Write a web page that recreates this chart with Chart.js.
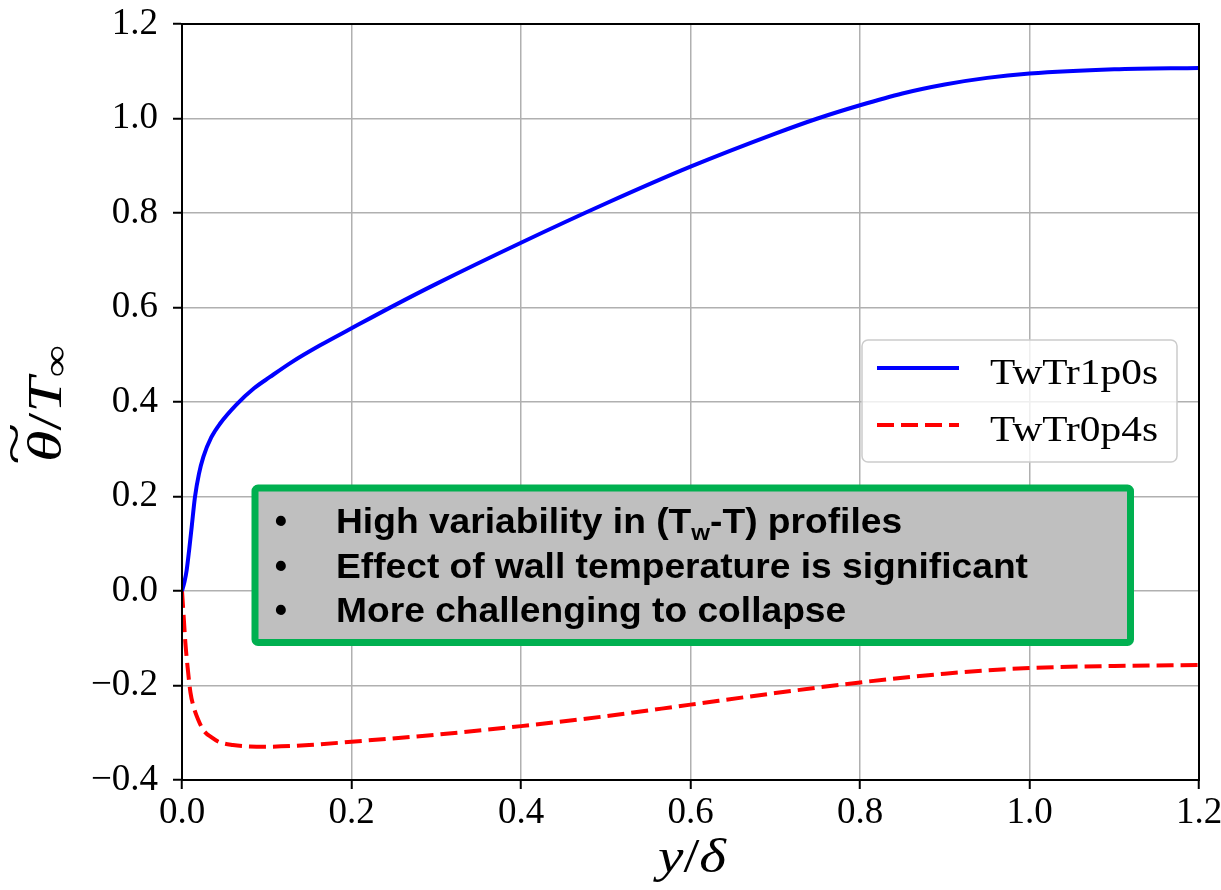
<!DOCTYPE html>
<html>
<head>
<meta charset="utf-8">
<script src="https://cdn.jsdelivr.net/npm/chart.js@4.4.0/dist/chart.umd.min.js"></script>
<style>
  html, body { margin: 0; padding: 0; background: #fff; }
  #wrap { width: 1221px; height: 890px; }
</style>
</head>
<body>
<div id="wrap"><canvas id="chartTheta" width="1221" height="890"></canvas></div>
<script>
// ===============================================
// temperature profile plot : theta~/T_inf vs y/delta
// ===============================================

// -----------------------------------------------
// 1) data
// -----------------------------------------------
const seriesLabels = ["TwTr1p0s", "TwTr0p4s"];

const blueX = [0, 0.003, 0.0055, 0.0085, 0.0114, 0.0153, 0.02, 0.0252, 0.0345, 0.0448,
  0.0645, 0.085, 0.1038, 0.13, 0.163, 0.2, 0.25, 0.3, 0.4, 0.5,
  0.6, 0.7, 0.75, 0.8, 0.85, 0.9, 0.95, 1.0, 1.1, 1.2];
const blueY = [0, 0.02, 0.044, 0.088, 0.135, 0.199, 0.248, 0.284, 0.325, 0.354,
  0.395, 0.429, 0.453, 0.485, 0.52, 0.556, 0.604, 0.65, 0.737, 0.82,
  0.898, 0.968, 1.0, 1.028, 1.053, 1.072, 1.086, 1.095, 1.104, 1.107];

const redX = [0, 0.002, 0.004, 0.0066, 0.01, 0.0137, 0.019, 0.0255, 0.035, 0.0437,
  0.06, 0.08, 0.1, 0.15, 0.2, 0.3, 0.4, 0.5, 0.6, 0.7,
  0.8, 0.9, 1.0, 1.1, 1.2];
const redY = [0, -0.055, -0.11, -0.161, -0.215, -0.245, -0.272, -0.295, -0.31, -0.3195,
  -0.326, -0.329, -0.3295, -0.326, -0.319, -0.304, -0.286, -0.265, -0.2405, -0.216,
  -0.1935, -0.175, -0.163, -0.1587, -0.1566];

const xTicks = [0, 0.2, 0.4, 0.6, 0.8, 1.0, 1.2];
const yTicks = [-0.4, -0.2, 0, 0.2, 0.4, 0.6, 0.8, 1.0, 1.2];

// "_w" marks a subscript
const noteLines = [
  "High variability in (T_w-T) profiles",
  "Effect of wall temperature is significant",
  "More challenging to collapse"
];

const SERIF = "'Liberation Serif', 'Times New Roman', serif";
const SANS = "'Liberation Sans', Arial, sans-serif";

// -----------------------------------------------
// 2) text helpers
// -----------------------------------------------
function splitRuns(str) {
  const parts = str.split(/_(\w)/);
  return parts.map((t, i) => ({ t, sub: i % 2 === 1 })).filter(r => r.t.length);
}

function runsWidth(ctx, runs, size, weight, family) {
  let w = 0;
  for (const r of runs) {
    ctx.font = `${weight} ${r.sub ? size * 0.65 : size}px ${family}`;
    w += ctx.measureText(r.t).width;
  }
  return w;
}

function drawRuns(ctx, runs, x, y, size, weight, family) {
  let cx = x;
  for (const r of runs) {
    const fs = r.sub ? size * 0.65 : size;
    ctx.font = `${weight} ${fs}px ${family}`;
    ctx.fillText(r.t, cx, r.sub ? y + size * 0.2 : y);
    cx += ctx.measureText(r.t).width;
  }
}

// math label pieces: {t, f, dy}
function piecesWidth(ctx, pieces) {
  let w = 0;
  pieces.forEach(p => { ctx.font = p.f; w += ctx.measureText(p.t).width; });
  return w;
}

function drawPieces(ctx, pieces) {
  let px = 0;
  pieces.forEach(p => {
    ctx.font = p.f;
    const w = ctx.measureText(p.t).width;
    ctx.fillText(p.t, px, p.dy || 0);
    if (p.accent) {
      // wide tilde over the glyph
      ctx.save();
      ctx.font = p.accent.f;
      const aw = ctx.measureText("~").width;
      ctx.translate(px + w / 2 + 2, p.accent.dy);
      ctx.scale((w + 8) / aw, 1);
      ctx.textAlign = "center";
      ctx.fillText("~", 0, 0);
      ctx.restore();
    }
    px += w;
  });
}

// -----------------------------------------------
// 3) annotation box, legend, frame, axis titles
// -----------------------------------------------
function drawNote(ctx) {
  ctx.save();
  ctx.beginPath();
  ctx.roundRect(255, 488, 875.5, 154.5, 3);
  ctx.fillStyle = "#bfbfbf";
  ctx.fill();
  ctx.lineWidth = 7;
  ctx.strokeStyle = "#00b050";
  ctx.stroke();

  ctx.fillStyle = "#000";
  ctx.textBaseline = "alphabetic";
  const size = 35;
  const ref = runsWidth(ctx, splitRuns(noteLines[1]), size, "bold", SANS);
  const k = 692 / ref;
  noteLines.forEach((line, i) => {
    const base = 533 + i * 44.5;
    ctx.font = `bold ${size}px ${SANS}`;
    ctx.textAlign = "center";
    ctx.fillText("\u2022", 281, base);
    ctx.textAlign = "left";
    ctx.save();
    ctx.translate(336, base);
    ctx.scale(k, 1);
    drawRuns(ctx, splitRuns(line), 0, 0, size, "bold", SANS);
    ctx.restore();
  });
  ctx.restore();
}

function drawLegend(chart) {
  const ctx = chart.ctx;
  ctx.save();
  ctx.beginPath();
  ctx.roundRect(862, 340, 315, 122, 6);
  ctx.fillStyle = "rgba(255,255,255,0.8)";
  ctx.fill();
  ctx.lineWidth = 1.5;
  ctx.strokeStyle = "#cccccc";
  ctx.stroke();

  chart.data.datasets.forEach((ds, i) => {
    const cy = 368 + i * 57;
    ctx.beginPath();
    ctx.setLineDash(ds.borderDash || []);
    ctx.lineWidth = ds.borderWidth;
    ctx.strokeStyle = ds.borderColor;
    ctx.moveTo(877, cy);
    ctx.lineTo(959, cy);
    ctx.stroke();
    ctx.setLineDash([]);

    ctx.fillStyle = "#000";
    ctx.font = `36px ${SERIF}`;
    ctx.textBaseline = "alphabetic";
    ctx.textAlign = "left";
    const w = ctx.measureText(ds.label).width;
    ctx.save();
    ctx.translate(990, cy + 16);
    ctx.scale(168 / w, 1);
    ctx.fillText(ds.label, 0, 0);
    ctx.restore();
  });
  ctx.restore();
}

function drawTitles(ctx) {
  ctx.save();
  ctx.fillStyle = "#000";
  ctx.textBaseline = "alphabetic";
  ctx.textAlign = "left";

  // x title: y/δ
  const xr = [
    { t: "y", f: `italic 48px ${SERIF}` },
    { t: "/", f: `48px ${SERIF}` },
    { t: "\u03b4", f: `italic 48px ${SERIF}` }
  ];
  const xw = piecesWidth(ctx, xr);
  ctx.save();
  ctx.translate(658, 872);
  ctx.scale(68 / xw, 1);
  drawPieces(ctx, xr);
  ctx.restore();

  // y title: θ~/T∞, rotated
  const yr = [
    { t: "\u03b8", f: `italic 48px ${SERIF}`, accent: { f: `48px ${SERIF}`, dy: -31 } },
    { t: "/", f: `48px ${SERIF}` },
    { t: "T", f: `italic 48px ${SERIF}` },
    { t: "\u221e", f: `34px ${SERIF}`, dy: 6 }
  ];
  const yw = piecesWidth(ctx, yr);
  ctx.save();
  ctx.translate(61, 462);
  ctx.rotate(-Math.PI / 2);
  ctx.scale(117 / yw, 1);
  drawPieces(ctx, yr);
  ctx.restore();
  ctx.restore();
}

const overlay = {
  id: "overlay",
  afterDatasetsDraw(chart) {
    const { ctx, chartArea: a } = chart;
    drawNote(ctx);
    drawLegend(chart);
    ctx.save();
    ctx.strokeStyle = "#000";
    ctx.lineWidth = 2;
    ctx.strokeRect(a.left, a.top, a.right - a.left, a.bottom - a.top);
    ctx.restore();
    drawTitles(ctx);
  }
};

// -----------------------------------------------
// 4) chart
// -----------------------------------------------
const fmt = v => Number(v).toFixed(1).replace("-", "\u2212");

const gridStyle = {
  color: "#b0b0b0",
  lineWidth: 1.5,
  tickLength: 9,
  tickColor: "#000",
  tickWidth: 2
};

new Chart(document.getElementById("chartTheta"), {
  type: "scatter",
  data: {
    datasets: [
      {
        label: seriesLabels[0],
        data: blueX.map((x, i) => ({ x, y: blueY[i] })),
        showLine: true,
        borderColor: "#0000ff",
        borderWidth: 4,
        pointRadius: 0,
        cubicInterpolationMode: "monotone",
        fill: false
      },
      {
        label: seriesLabels[1],
        data: redX.map((x, i) => ({ x, y: redY[i] })),
        showLine: true,
        borderColor: "#ff0000",
        borderWidth: 4,
        borderDash: [17, 7],
        pointRadius: 0,
        cubicInterpolationMode: "monotone",
        fill: false
      }
    ]
  },
  options: {
    responsive: false,
    animation: false,
    devicePixelRatio: 1,
    layout: { padding: { top: 24, right: 22, left: 0, bottom: 0 } },
    plugins: {
      legend: { display: false },
      tooltip: { enabled: false }
    },
    scales: {
      x: {
        type: "linear",
        min: 0,
        max: 1.2,
        afterBuildTicks: s => { s.ticks = xTicks.map(value => ({ value })); },
        afterFit: s => { s.height = 110; s.paddingLeft = 0; s.paddingRight = 0; },
        ticks: {
          callback: fmt,
          color: "#000",
          font: { family: SERIF, size: 37 },
          padding: 2,
          maxRotation: 0
        },
        grid: gridStyle,
        border: { display: true, color: "#000", width: 2 }
      },
      y: {
        type: "linear",
        min: -0.4,
        max: 1.2,
        afterBuildTicks: s => { s.ticks = yTicks.map(value => ({ value })); },
        afterFit: s => { s.width = 182; s.paddingTop = 0; s.paddingBottom = 0; },
        ticks: {
          callback: fmt,
          color: "#000",
          font: { family: SERIF, size: 37 },
          padding: 15
        },
        grid: gridStyle,
        border: { display: true, color: "#000", width: 2 }
      }
    }
  },
  plugins: [overlay]
});
</script>
</body>
</html>
